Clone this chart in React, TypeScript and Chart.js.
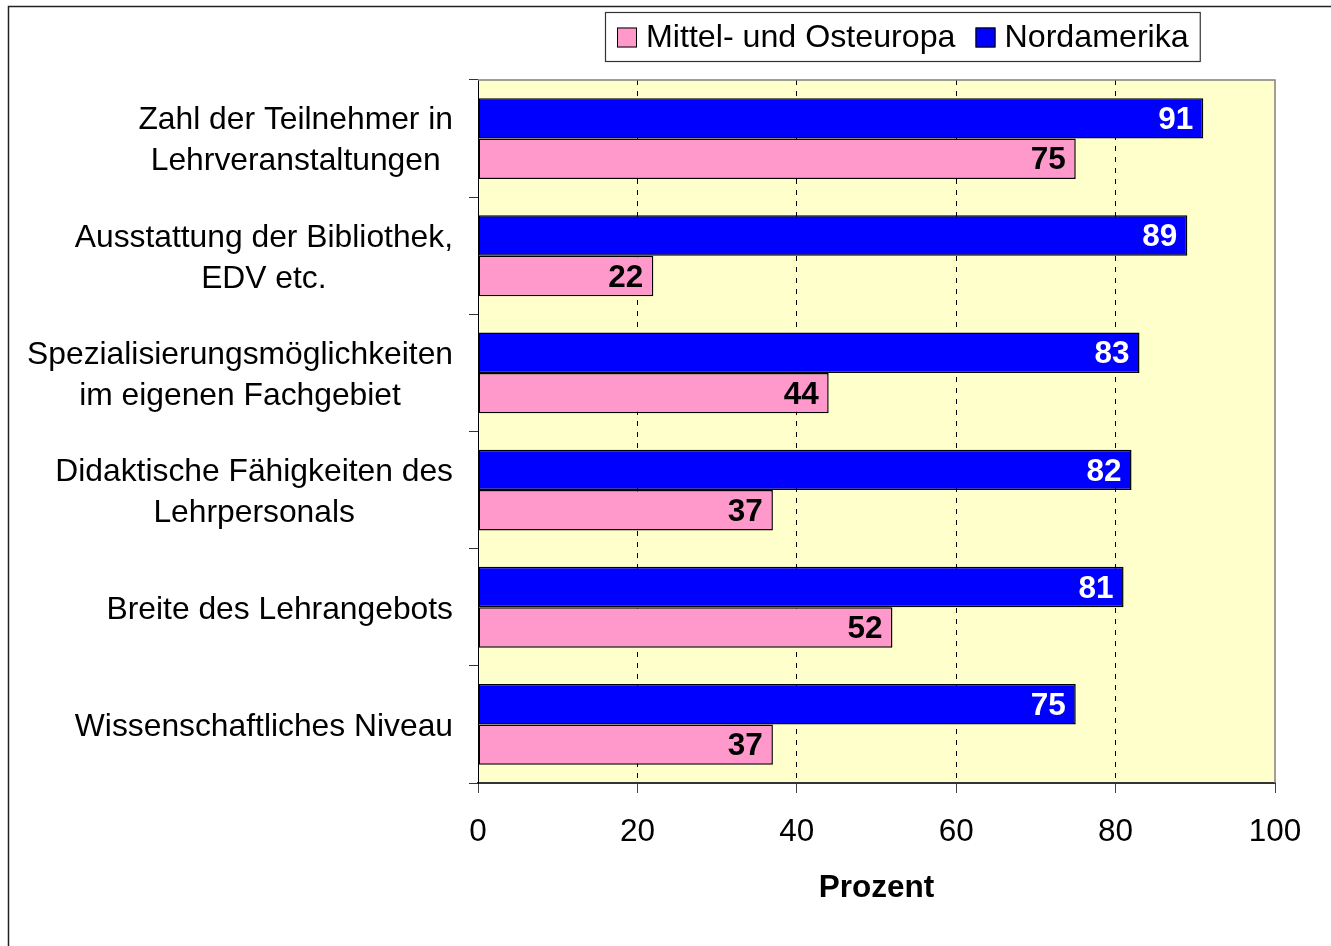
import { useEffect, useRef } from "react";
import { Chart, registerables } from "chart.js";

Chart.register(...registerables);

const categories: string[][] = [
  ["Zahl der Teilnehmer in", "Lehrveranstaltungen"],
  ["Ausstattung der Bibliothek,", "EDV etc."],
  ["Spezialisierungsmöglichkeiten", "im eigenen Fachgebiet"],
  ["Didaktische Fähigkeiten des", "Lehrpersonals"],
  ["Breite des Lehrangebots"],
  ["Wissenschaftliches Niveau"],
];
const nordamerika = [91, 89, 83, 82, 81, 75];
const mittelOsteuropa = [75, 22, 44, 37, 52, 37];
const seriesNames = ["Nordamerika", "Mittel- und Osteuropa"];
const seriesColors = ["#0000FF", "#FF99CC"];
const legendOrder = [1, 0];
const xTicks = [0, 20, 40, 60, 80, 100];
const xTitle = "Prozent";

const FONT = '"Liberation Sans", Arial, Helvetica, sans-serif';
const FS = 31.5;
const LABEL_FS = 31.8;
const LEGEND_FS = 32.2;

export default function App() {
  const ref = useRef<HTMLCanvasElement | null>(null);

  useEffect(() => {
    const canvas = ref.current;
    if (!canvas) return;

    const decor = {
      id: "decor",
      beforeDraw(chart: any) {
        const { ctx, chartArea: a, width, height } = chart;
        ctx.save();
        ctx.fillStyle = "#FFFFFF";
        ctx.fillRect(0, 0, width, height);
        ctx.strokeStyle = "#222";
        ctx.lineWidth = 1.5;
        ctx.beginPath();
        ctx.moveTo(8.5, height + 2);
        ctx.lineTo(8.5, 6.5);
        ctx.lineTo(width + 2, 6.5);
        ctx.stroke();
        ctx.fillStyle = "#FFFFCC";
        ctx.fillRect(a.left, a.top, a.right - a.left, a.bottom - a.top);
        ctx.restore();
      },
      afterDatasetsDraw(chart: any) {
        const { ctx, chartArea: a } = chart;
        ctx.save();
        ctx.strokeStyle = "#808080";
        ctx.lineWidth = 1.5;
        ctx.beginPath();
        ctx.moveTo(a.left, a.top);
        ctx.lineTo(a.right, a.top);
        ctx.lineTo(a.right, a.bottom);
        ctx.stroke();

        // data labels
        ctx.font = `bold ${FS}px ${FONT}`;
        ctx.textAlign = "right";
        ctx.textBaseline = "middle";
        chart.data.datasets.forEach((ds: any, di: number) => {
          const meta = chart.getDatasetMeta(di);
          meta.data.forEach((bar: any, i: number) => {
            ctx.fillStyle = di === 0 ? "#FFFFFF" : "#000000";
            ctx.fillText(String(ds.data[i]), bar.x - 10, bar.y + 2);
          });
        });

        // category labels
        const yScale = chart.scales.y;
        ctx.font = `${LABEL_FS}px ${FONT}`;
        ctx.fillStyle = "#000";
        ctx.textAlign = "center";
        const blockRight = a.left - 25;
        const lh = 41;
        categories.forEach((lines, i) => {
          const cy = yScale.getPixelForValue(i);
          const w = Math.max(...lines.map((l) => ctx.measureText(l).width));
          const cx = blockRight - w / 2;
          lines.forEach((l, k) => {
            ctx.fillText(l, cx, cy + (k - (lines.length - 1) / 2) * lh + 2.5);
          });
        });

        // legend
        ctx.font = `${LEGEND_FS}px ${FONT}`;
        ctx.textAlign = "left";
        const boxLeft = 605;
        const boxTop = 12;
        const boxH = 49;
        const sq = 20;
        let x = boxLeft + 12;
        const cy = boxTop + boxH / 2;
        const items = legendOrder.map((idx) => ({
          text: seriesNames[idx],
          color: seriesColors[idx],
        }));
        const positions: { sx: number; tx: number }[] = [];
        items.forEach((it, k) => {
          positions.push({ sx: x, tx: x + sq + 9 });
          x += sq + 9 + ctx.measureText(it.text).width;
          if (k < items.length - 1) x += 20;
        });
        const boxW = x + 11 - boxLeft;
        ctx.fillStyle = "#FFFFFF";
        ctx.fillRect(boxLeft, boxTop, boxW, boxH);
        ctx.strokeStyle = "#333";
        ctx.lineWidth = 1.2;
        ctx.strokeRect(boxLeft + 0.5, boxTop + 0.5, boxW, boxH);
        items.forEach((it, k) => {
          const p = positions[k];
          ctx.fillStyle = it.color;
          ctx.fillRect(p.sx, cy - sq / 2 + 1, sq, sq);
          ctx.strokeStyle = "#000";
          ctx.lineWidth = 1;
          ctx.strokeRect(p.sx + 0.5, cy - sq / 2 + 1.5, sq - 1, sq - 1);
          ctx.fillStyle = "#000";
          ctx.fillText(it.text, p.tx, cy + 2);
        });
        ctx.restore();
      },
    };

    const chart = new Chart(canvas, {
      type: "bar",
      data: {
        labels: categories,
        datasets: [
          {
            label: seriesNames[0],
            data: nordamerika,
            backgroundColor: seriesColors[0],
            borderColor: "#000",
            borderWidth: 1.5,
            borderSkipped: false,
            categoryPercentage: 0.69,
            barPercentage: 1,
          },
          {
            label: seriesNames[1],
            data: mittelOsteuropa,
            backgroundColor: seriesColors[1],
            borderColor: "#000",
            borderWidth: 1.5,
            borderSkipped: false,
            categoryPercentage: 0.69,
            barPercentage: 1,
          },
        ],
      },
      options: {
        indexAxis: "y",
        responsive: false,
        animation: false,
        devicePixelRatio: 1,
        layout: { padding: { left: 0, right: 56, top: 80, bottom: 0 } },
        plugins: {
          legend: { display: false },
          tooltip: { enabled: false },
          title: { display: false },
        },
        scales: {
          x: {
            type: "linear",
            min: xTicks[0],
            max: xTicks[xTicks.length - 1],
            afterBuildTicks: (s: any) => {
              s.ticks = xTicks.map((v) => ({ value: v }));
            },
            afterFit: (s: any) => {
              s.height = 163;
            },
            ticks: {
              color: "#000",
              font: { family: FONT, size: FS, lineHeight: 1.2 },
              padding: 20,
              maxRotation: 0,
              autoSkip: false,
            },
            grid: {
              display: true,
              drawOnChartArea: true,
              drawTicks: true,
              tickLength: 10,
              lineWidth: 1,
              color: (c: any) =>
                c.tick && (c.tick.value === 0 || c.tick.value === 100)
                  ? "rgba(0,0,0,0)"
                  : "#000",
              tickColor: "#444",
            },
            border: { display: true, color: "#333", width: 2, dash: [5, 6] },
            title: {
              display: true,
              text: xTitle,
              color: "#000",
              font: { family: FONT, size: FS, weight: "bold", lineHeight: 1.2 },
              padding: { top: 0, bottom: 38.5 },
            },
          },
          y: {
            type: "category",
            afterFit: (s: any) => {
              s.width = 478;
            },
            ticks: { display: false },
            grid: {
              display: true,
              offset: true,
              drawOnChartArea: false,
              drawTicks: true,
              tickLength: 9,
              tickColor: "#333",
              color: "#333",
              lineWidth: 1,
            },
            border: { display: true, color: "#000", width: 1 },
          },
        },
      },
      plugins: [decor],
    } as any);

    return () => chart.destroy();
  }, []);

  return (
    <canvas
      ref={ref}
      width={1331}
      height={946}
      style={{ position: "fixed", left: 0, top: 0, width: 1331, height: 946, display: "block" }}
    />
  );
}
